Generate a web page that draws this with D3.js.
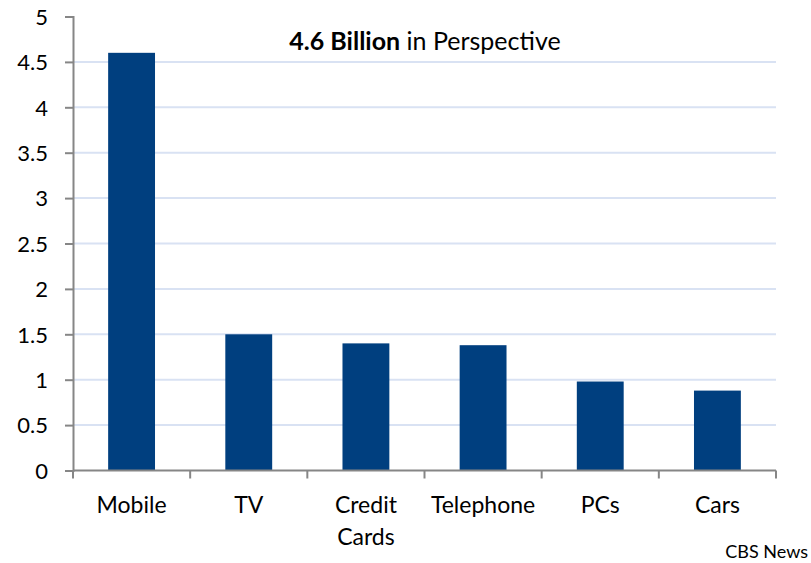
<!DOCTYPE html>
<html>
<head>
<meta charset="utf-8">
<script src="https://cdn.jsdelivr.net/npm/d3@7"></script>
<style>
    body { margin: 0; background: #fff; }
    svg text { font-family: Lato, "Open Sans", sans-serif; fill: #000; }
</style>
</head>
<body>
<div id="chart"></div>
<script>
const categories = [["Mobile"], ["TV"], ["Credit", "Cards"], ["Telephone"], ["PCs"], ["Cars"]];
const values = [4.6, 1.5, 1.4, 1.38, 0.98, 0.88];
const yTicks = [0, 0.5, 1, 1.5, 2, 2.5, 3, 3.5, 4, 4.5, 5];
const titleBold = "4.6 Billion";
const titleRest = " in Perspective";
const source = "CBS News";

const width = 811, height = 563;
const margin = { top: 16.5, right: 35, bottom: 92.5, left: 73 };

const svg = d3.select("#chart").append("svg")
    .attr("width", width)
    .attr("height", height);

const labels = categories.map(c => c.join(" "));

const x = d3.scaleBand()
    .domain(labels)
    .range([margin.left, width - margin.right])
    .paddingInner(0.6)
    .paddingOuter(0.3);

const y = d3.scaleLinear()
    .domain([0, 5])
    .range([height - margin.bottom, margin.top]);

// gridlines
svg.append("g")
    .selectAll("line")
    .data(yTicks.filter(t => t > 0 && t < 5))
    .join("line")
    .attr("x1", margin.left)
    .attr("x2", width - margin.right)
    .attr("y1", d => y(d))
    .attr("y2", d => y(d))
    .attr("stroke", "#d9e2f3")
    .attr("stroke-width", 2);

// bars
svg.append("g")
    .selectAll("rect")
    .data(values)
    .join("rect")
    .attr("x", (d, i) => x(labels[i]))
    .attr("y", d => y(d))
    .attr("width", x.bandwidth())
    .attr("height", d => y(0) - y(d))
    .attr("fill", "#003f7f");

// y axis
const yAxis = svg.append("g")
    .attr("transform", `translate(${margin.left},0)`)
    .call(d3.axisLeft(y).tickValues(yTicks).tickSize(8).tickPadding(17).tickFormat(d3.format("")));
yAxis.select(".domain").attr("stroke", "#868686").attr("stroke-width", 2);
yAxis.selectAll(".tick line").attr("stroke", "#868686").attr("stroke-width", 2);
yAxis.selectAll(".tick text").attr("font-size", 22).attr("dy", "0.35em");

// x axis: ticks between categories
const xAxisY = y(0);
svg.append("line")
    .attr("x1", margin.left)
    .attr("x2", width - margin.right)
    .attr("y1", xAxisY)
    .attr("y2", xAxisY)
    .attr("stroke", "#868686")
    .attr("stroke-width", 2);

const step = x.step();
const boundaries = d3.range(labels.length + 1).map(i => margin.left + i * step);
svg.append("g")
    .selectAll("line")
    .data(boundaries)
    .join("line")
    .attr("x1", d => d)
    .attr("x2", d => d)
    .attr("y1", xAxisY)
    .attr("y2", xAxisY + 8)
    .attr("stroke", "#868686")
    .attr("stroke-width", 2);

const xLabels = svg.append("g")
    .selectAll("text")
    .data(categories)
    .join("text")
    .attr("text-anchor", "middle")
    .attr("font-size", 23)
    .attr("x", (d, i) => x(labels[i]) + x.bandwidth() / 2)
    .attr("y", 513);
xLabels.selectAll("tspan")
    .data(d => d)
    .join("tspan")
    .attr("x", function () { return d3.select(this.parentNode).attr("x"); })
    .attr("dy", (d, i) => i === 0 ? 0 : 32)
    .text(d => d);

// title
const title = svg.append("text")
    .attr("x", 425)
    .attr("y", 50)
    .attr("text-anchor", "middle")
    .attr("font-size", 25);
title.append("tspan").attr("font-weight", "bold").text(titleBold);
title.append("tspan").text(titleRest);

// source
svg.append("text")
    .attr("x", 808)
    .attr("y", 558)
    .attr("text-anchor", "end")
    .attr("font-size", 18)
    .text(source);
</script>
</body>
</html>
